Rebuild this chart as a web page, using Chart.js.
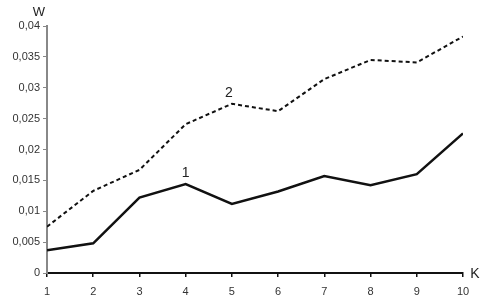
<!DOCTYPE html>
<html><head><meta charset="utf-8">
<script src="https://cdn.jsdelivr.net/npm/chart.js@4"></script>
<style>html,body{margin:0;padding:0;background:#fff}#wrap{width:490px;height:308px}</style>
</head><body><div id="wrap"><canvas id="c"></canvas></div>
<script>
const categories = [1,2,3,4,5,6,7,8,9,10];
const series1 = [0.0037,0.0048,0.0122,0.0144,0.0112,0.0132,0.0157,0.0142,0.0160,0.0226];
const series2 = [0.0075,0.0133,0.0167,0.0241,0.0274,0.0262,0.0314,0.0345,0.0341,0.0383];
const yTicks = [0,0.005,0.01,0.015,0.02,0.025,0.03,0.035,0.04];
const seriesNames = ['1','2'];
const axisNames = ['K','W'];

const fmt = v => String(v).replace('.', ',');

const labelsPlugin = {
  id:'labels',
  afterDraw(chart){
    const ctx = chart.ctx, x = chart.scales.x, y = chart.scales.y;
    ctx.save();
    ctx.fillStyle = '#222';
    ctx.textAlign = 'center';
    ctx.textBaseline = 'bottom';
    ctx.font = '14px "Liberation Sans", Arial, sans-serif';
    ctx.fillText(seriesNames[0], x.getPixelForValue(categories[3]), y.getPixelForValue(series1[3]) - 4);
    ctx.fillText(seriesNames[1], x.getPixelForValue(categories[4]) - 3, y.getPixelForValue(series2[4]) - 4);
    ctx.textBaseline = 'middle';
    ctx.font = '14px "Liberation Sans", Arial, sans-serif';
    ctx.fillText(axisNames[0], x.right + 12, x.top + 1);
    ctx.font = '13px "Liberation Sans", Arial, sans-serif';
    ctx.fillText(axisNames[1], y.right - 8, y.top - 14);
    ctx.restore();
  }
};

new Chart(document.getElementById('c'), {
  type:'line',
  data:{
    datasets:[
      {data: categories.map((k,i)=>({x:k,y:series1[i]})), borderColor:'#111', borderWidth:2.5, pointRadius:0, tension:0, fill:false},
      {data: categories.map((k,i)=>({x:k,y:series2[i]})), borderColor:'#111', borderWidth:2, borderDash:[4,3], pointRadius:0, tension:0, fill:false}
    ]
  },
  options:{
    responsive:true, maintainAspectRatio:false, animation:false,
    layout:{padding:{top:26,right:27,left:0,bottom:0}},
    plugins:{legend:{display:false}, tooltip:{enabled:false}},
    scales:{
      x:{type:'linear', min:1, max:10,
        afterBuildTicks(s){ s.ticks = categories.map(v=>({value:v})); },
        afterFit(s){ s.height = 35; },
        grid:{drawOnChartArea:false, drawTicks:true, tickLength:4, color:'#111', lineWidth:1.5},
        border:{color:'#111', width:2},
        ticks:{color:'#333', padding:8, maxRotation:0, font:{size:11, family:'"Liberation Sans", Arial, sans-serif'}}
      },
      y:{min:0, max:0.04,
        afterBuildTicks(s){ s.ticks = yTicks.map(v=>({value:v})); },
        afterFit(s){ s.width = 47; },
        grid:{drawOnChartArea:false, drawTicks:true, tickLength:4, color:'#888', lineWidth:1},
        border:{color:'#888', width:2},
        ticks:{color:'#333', padding:3, callback:v=>fmt(v), font:{size:11, family:'"Liberation Sans", Arial, sans-serif'}}
      }
    }
  },
  plugins:[labelsPlugin]
});
</script></body></html>
